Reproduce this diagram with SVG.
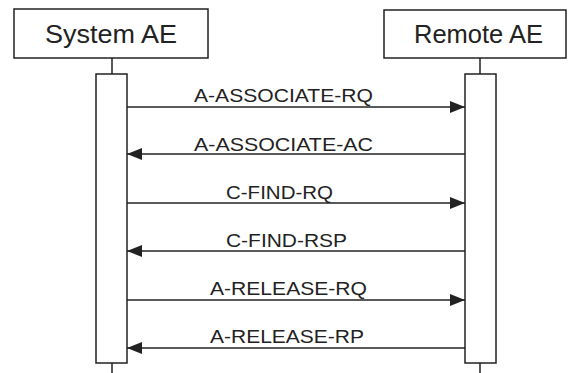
<svg xmlns="http://www.w3.org/2000/svg" width="568" height="373" viewBox="0 0 568 373">
<defs>
<style>
.box{fill:#fff;stroke:#222;stroke-width:1.5}
.life{stroke:#222;stroke-width:1.5}
.msg{stroke:#222;stroke-width:1.5;fill:none}
.title{font-family:"Liberation Sans",Arial,sans-serif;font-size:26px;fill:#222}
.lbl{font-family:"Liberation Sans",Arial,sans-serif;font-size:19px;fill:#222}
</style>
<marker id="ah" viewBox="0 0 15 12" refX="15" refY="6" markerWidth="15" markerHeight="12" markerUnits="userSpaceOnUse" orient="auto">
<path d="M0,0 L15,6 L0,12 Z" fill="#222"/>
</marker>
</defs>
<rect width="568" height="373" fill="#fff"/>
<g id="system-ae">
<rect class="box" x="14" y="9" width="194" height="49"/>
<text class="title" x="45" y="43" textLength="132" lengthAdjust="spacingAndGlyphs">System AE</text>
<line class="life" x1="112" y1="58" x2="112" y2="74"/>
<rect class="box" x="96" y="74" width="31" height="289"/>
<line class="life" x1="112" y1="363" x2="112" y2="373"/>
</g>
<g id="remote-ae">
<rect class="box" x="384" y="10" width="182" height="48"/>
<text class="title" x="414" y="43" textLength="129" lengthAdjust="spacingAndGlyphs">Remote AE</text>
<line class="life" x1="480" y1="58" x2="480" y2="74"/>
<rect class="box" x="465" y="74" width="31" height="289"/>
<line class="life" x1="480" y1="363" x2="480" y2="373"/>
</g>
<g id="connectors">
<line class="msg" x1="127" y1="107" x2="465" y2="107" marker-end="url(#ah)"/>
<text class="lbl" x="194" y="102" textLength="179" lengthAdjust="spacingAndGlyphs">A-ASSOCIATE-RQ</text>
<line class="msg" x1="465" y1="154" x2="127" y2="154" marker-end="url(#ah)"/>
<text class="lbl" x="194" y="151" textLength="179" lengthAdjust="spacingAndGlyphs">A-ASSOCIATE-AC</text>
<line class="msg" x1="127" y1="203" x2="465" y2="203" marker-end="url(#ah)"/>
<text class="lbl" x="226" y="199" textLength="107" lengthAdjust="spacingAndGlyphs">C-FIND-RQ</text>
<line class="msg" x1="465" y1="251" x2="127" y2="251" marker-end="url(#ah)"/>
<text class="lbl" x="226" y="247" textLength="121" lengthAdjust="spacingAndGlyphs">C-FIND-RSP</text>
<line class="msg" x1="127" y1="300" x2="465" y2="300" marker-end="url(#ah)"/>
<text class="lbl" x="210" y="295" textLength="157" lengthAdjust="spacingAndGlyphs">A-RELEASE-RQ</text>
<line class="msg" x1="465" y1="348" x2="127" y2="348" marker-end="url(#ah)"/>
<text class="lbl" x="210" y="343" textLength="154" lengthAdjust="spacingAndGlyphs">A-RELEASE-RP</text>
</g>
</svg>
